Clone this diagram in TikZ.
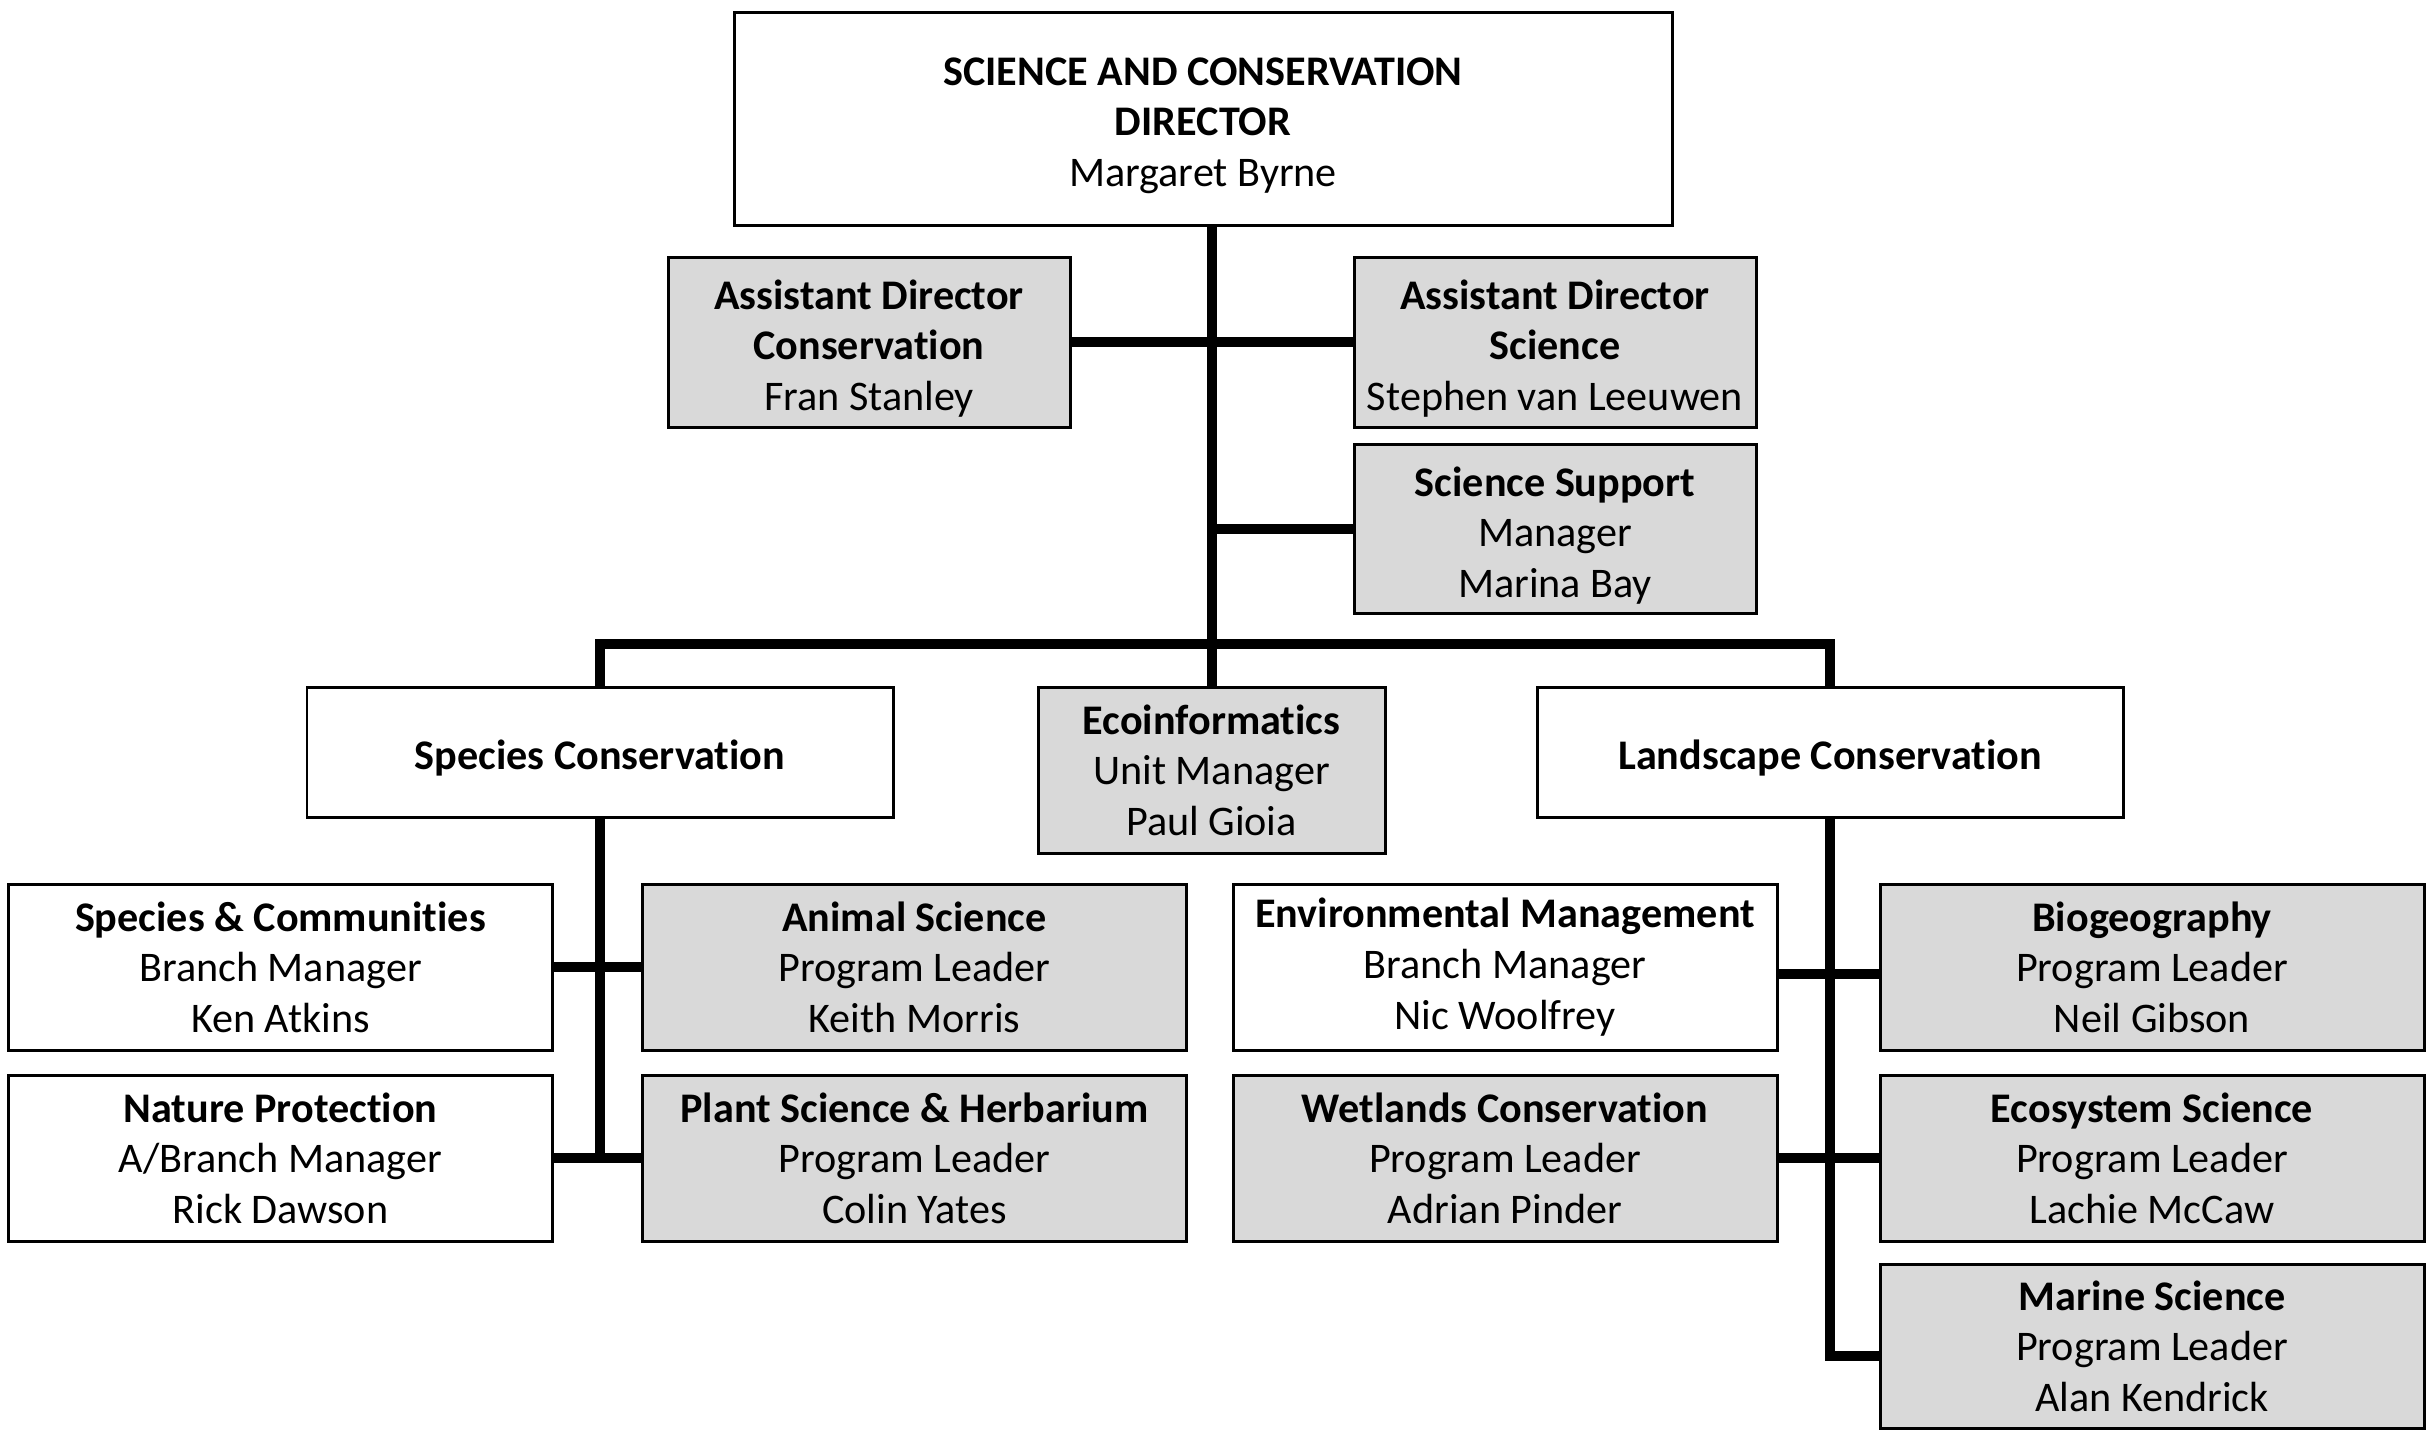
\documentclass[tikz,border=0pt]{standalone}
\usepackage{fontspec}
\setmainfont{Carlito}[RawFeature={-liga;-clig;-calt;-dlig}]
\usepackage{tikz}
\definecolor{boxgray}{RGB}{217,217,217}
\newcommand{\ttl}[1]{\rule{0pt}{12pt}\textbf{#1}}

\begin{document}
\begin{tikzpicture}[x=0.1mm, y=-0.1mm,
  font=\fontsize{12}{14.4}\selectfont,
  box/.style={draw, line width=0.85pt, align=center, inner sep=0pt,
    minimum width=544*0.1mm, minimum height=166*0.1mm},
  grey/.style={box, fill=boxgray},
  link/.style={line width=2.85pt}]
\useasboundingbox (0,0) rectangle (2432,1438);

\node[name=director, box, minimum width=938*0.1mm, minimum height=213*0.1mm] at (1203,118.5)
  {\ttl{SCIENCE AND CONSERVATION}\\\ttl{DIRECTOR}\\Margaret Byrne};
\node[name=ad_cons, grey, minimum width=402*0.1mm, minimum height=170*0.1mm] at (869,342)
  {\ttl{Assistant Director}\\\ttl{Conservation}\\Fran Stanley};
\node[name=ad_sci, grey, minimum width=402*0.1mm, minimum height=170*0.1mm] at (1555,342)
  {\ttl{Assistant Director}\\\ttl{Science}\\Stephen van Leeuwen};
\node[name=sci_support, grey, minimum width=402*0.1mm, minimum height=169*0.1mm] at (1555,529)
  {\ttl{Science Support}\\Manager\\Marina Bay};

\node[name=species_cons, box, minimum width=586*0.1mm, minimum height=130*0.1mm] at (600,752)
  {\ttl{Species Conservation}};
\node[name=ecoinf, grey, minimum width=347*0.1mm] at (1211.5,770)
  {\textbf{Ecoinformatics}\\Unit Manager\\Paul Gioia};
\node[name=land_cons, box, minimum width=586*0.1mm, minimum height=130*0.1mm] at (1830,752)
  {\ttl{Landscape Conservation}};

\node[name=sp_comm, box] at (280.5,967) {\textbf{Species \& Communities}\\Branch Manager\\Ken Atkins};
\node[name=nature, box] at (280.5,1158) {\textbf{Nature Protection}\\A/Branch Manager\\Rick Dawson};
\node[name=animal, grey] at (914.5,967) {\textbf{Animal Science}\\Program Leader\\Keith Morris};
\node[name=plant, grey] at (914.5,1158) {\textbf{Plant Science \& Herbarium}\\Program Leader\\Colin Yates};

\node[name=env_mgmt, box] at (1505,967) {\textbf{Environmental Management}\\Branch Manager\\Nic Woolfrey};
\node[name=wetlands, grey] at (1505,1158) {\textbf{Wetlands Conservation}\\Program Leader\\Adrian Pinder};
\node[name=biogeo, grey] at (2152,967) {\textbf{Biogeography}\\Program Leader\\Neil Gibson};
\node[name=ecosys, grey] at (2152,1158) {\textbf{Ecosystem Science}\\Program Leader\\Lachie McCaw};
\node[name=marine, grey, minimum height=164*0.1mm] at (2152,1346) {\textbf{Marine Science}\\Program Leader\\Alan Kendrick};

\coordinate (bar) at (1212,644);
\coordinate (env_out) at ([yshift=-0.7mm]env_mgmt.east);
\coordinate (marine_in) at ([yshift=-1mm]marine.west);

% director level
\draw[link] (ecoinf.north |- director.south) -- (ecoinf.north);
\draw[link] (ad_cons.east) -- (ad_sci.west);
\draw[link] (sci_support.west) -- (ecoinf.north |- sci_support.west);
\draw[link] (species_cons.north) -- (species_cons.north |- bar) -- (land_cons.north |- bar) -- (land_cons.north);

% species conservation
\draw[link] (species_cons.south) -- (species_cons.south |- nature.east);
\draw[link] (sp_comm.east) -- (animal.west);
\draw[link] (nature.east) -- (plant.west);

% landscape conservation
\draw[link] (land_cons.south) -- (land_cons.south |- marine_in) -- (marine_in);
\draw[link] (env_out) -- (env_out -| biogeo.west);
\draw[link] (wetlands.east) -- (ecosys.west);

\end{tikzpicture}
\end{document}
